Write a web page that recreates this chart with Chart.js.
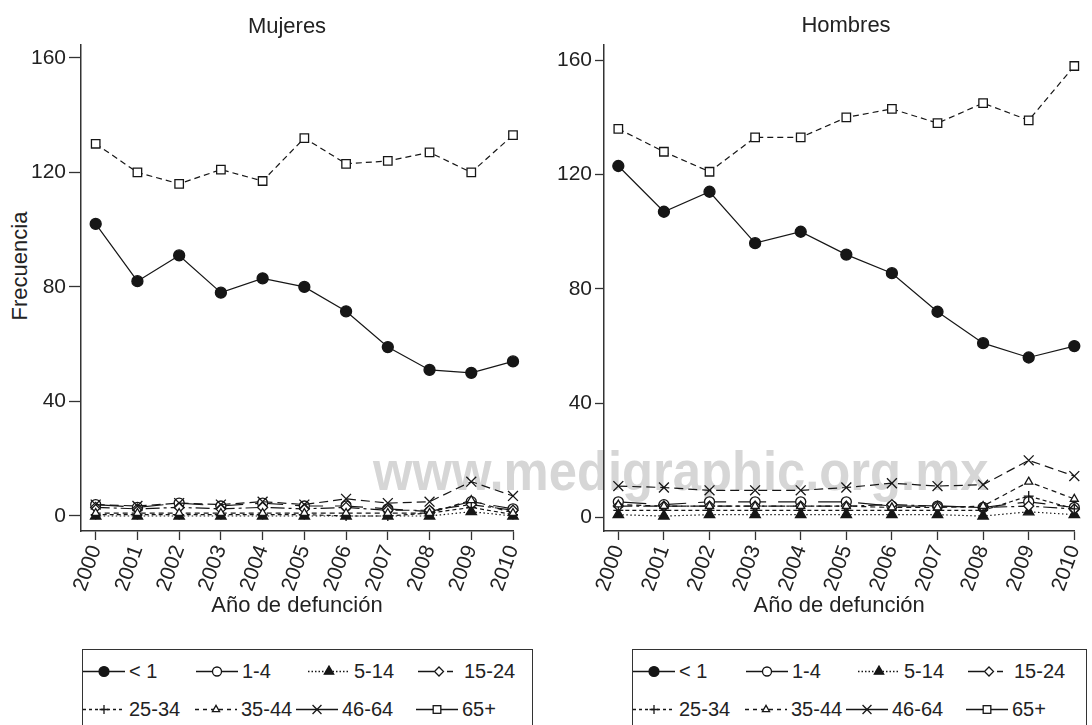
<!DOCTYPE html>
<html>
<head>
<meta charset="utf-8">
<script src="https://cdn.jsdelivr.net/npm/chart.js@4.4.1/dist/chart.umd.min.js"></script>
<style>
  body { margin: 0; width: 1092px; height: 725px; overflow: hidden; position: relative; background: #fff;
         font-family: "Liberation Sans", Arial, Helvetica, sans-serif; color: #222; }
  .panel { position: absolute; top: 0; width: 546px; height: 623px; z-index: 1; }
  .title { position: absolute; font-size: 22px; transform: translate(-50%, -50%); white-space: nowrap; z-index: 2; }
  #ytitle { position: absolute; left: 20px; top: 266px; font-size: 22px; white-space: nowrap;
            transform: translate(-50%, -50%) rotate(-90deg); }
  #watermark { position: absolute; left: 373px; top: 443px; font-size: 56px; line-height: 56px; font-weight: bold;
               color: #d6d6d6; white-space: nowrap; transform: scaleX(0.906); transform-origin: left top; z-index: 0; }
  .legend { position: absolute; top: 649px; height: 95px; border: 1px solid #333; box-sizing: border-box; background: #fff; }
  .item { position: absolute; display: flex; align-items: center; font-size: 20px; white-space: nowrap;
          transform: translateY(-50%); }
  .item svg { margin-right: 4px; }
</style>
</head>
<body>
<div id="watermark">www.medigraphic.org.mx</div>
<div class="title" style="left:287px; top:26px;">Mujeres</div>
<div class="title" style="left:846px; top:25px;">Hombres</div>
<div id="ytitle">Frecuencia</div>
<canvas id="chartMujeres" class="panel" style="left:0px;" width="546" height="623"></canvas>
<canvas id="chartHombres" class="panel" style="left:546px;" width="546" height="623"></canvas>
<div id="legendMujeres" class="legend" style="left:82px; width:451px;"></div>
<div id="legendHombres" class="legend" style="left:632px; width:455px;"></div>

<script>
// datos
const years = [2000, 2001, 2002, 2003, 2004, 2005, 2006, 2007, 2008, 2009, 2010];
const groupLabels = ['< 1', '1-4', '5-14', '15-24', '25-34', '35-44', '46-64', '65+'];
const yTicks = [0, 40, 80, 120, 160];

const mujLt1   = [102, 82, 91, 78, 83, 80, 71.5, 59, 51, 50, 54];
const muj1a4   = [4, 3, 4.5, 3.5, 4.5, 3.5, 3.5, 2.5, 1.5, 5, 2.5];
const muj5a14  = [0, 0, 0, 0, 0, 0, 0, 0, 0, 1.5, 0];
const muj15a24 = [3, 2.5, 3, 2.5, 3, 2.5, 3, 2, 2, 4, 2];
const muj25a34 = [0.5, 0.5, 0.5, 0.5, 0.5, 0.5, 0, 0, 1, 3, 0.5];
const muj35a44 = [1, 1, 1, 1, 1, 1, 1, 1, 1, 5.5, 1];
const muj46a64 = [4, 3.5, 4.5, 4, 5, 4, 6, 4.5, 5, 12, 7];
const muj65    = [130, 120, 116, 121, 117, 132, 123, 124, 127, 120, 133];

const homLt1   = [123, 107, 114, 96, 100, 92, 85.5, 72, 61, 56, 60];
const hom1a4   = [5.5, 4.5, 5.5, 5.5, 5.5, 5.5, 4, 4, 3.5, 5.5, 3.5];
const hom5a14  = [1, 0.5, 1, 1, 1, 1, 1, 1, 0.5, 2, 1];
const hom15a24 = [4, 4, 4, 4, 4, 4, 4.5, 4, 3.5, 4, 3];
const hom25a34 = [2.5, 2.5, 2.5, 2.5, 2.5, 2.5, 2.5, 2.5, 2.5, 7.5, 3];
const hom35a44 = [4.5, 4, 4, 4, 4, 4, 3.5, 3.5, 4, 12.5, 6.5];
const hom46a64 = [11, 10.5, 9.5, 9.5, 9.5, 10.5, 12, 11, 11.5, 20, 14.5];
const hom65    = [136, 128, 121, 133, 133, 140, 143, 138, 145, 139, 158];

const mujeresSeries = [mujLt1, muj1a4, muj5a14, muj15a24, muj25a34, muj35a44, muj46a64, muj65];
const hombresSeries = [homLt1, hom1a4, hom5a14, hom15a24, hom25a34, hom35a44, hom46a64, hom65];

// estilos de cada grupo (marcador, patron de linea en el grafico y en la leyenda)
const ink = '#161616';
const seriesStyles = [
  { pointStyle: 'circle',   radius: 5.5, fill: ink,    dash: [],            keyDash: [] },
  { pointStyle: 'circle',   radius: 5,   fill: '#fff', dash: [28, 12],      keyDash: [] },
  { pointStyle: 'triangle', radius: 6,   fill: ink,    dash: [1.5, 2.5],    keyDash: [1.5, 2] },
  { pointStyle: 'rectRot',  radius: 5,   fill: '#fff', dash: [14, 4, 3, 4], keyDash: [16, 13, 6, 20] },
  { pointStyle: 'cross',    radius: 5,   fill: '#fff', dash: [4, 3],        keyDash: [3, 3] },
  { pointStyle: 'triangle', radius: 4.6, fill: '#fff', dash: [5, 4],        keyDash: [4, 4] },
  { pointStyle: 'crossRot', radius: 7,   fill: '#fff', dash: [9, 5],        keyDash: [] },
  { pointStyle: 'rect',     radius: 6,   fill: '#fff', dash: [6, 4],        keyDash: [] }
];

Chart.defaults.font.family = '"Liberation Sans", Arial, Helvetica, sans-serif';
Chart.defaults.color = '#222';

function buildDatasets(series) {
  return series.map((vals, i) => {
    const st = seriesStyles[i];
    return {
      label: groupLabels[i],
      data: vals.map((v, j) => ({ x: years[j], y: v })),
      borderColor: ink,
      borderWidth: 1.2,
      borderDash: st.dash,
      pointStyle: st.pointStyle,
      pointRadius: st.radius,
      pointBackgroundColor: st.fill,
      pointBorderColor: ink,
      pointBorderWidth: 1.3,
      fill: false,
      tension: 0,
      clip: false,
      order: series.length - i
    };
  });
}

function makePanel(canvasId, series, cfg) {
  return new Chart(document.getElementById(canvasId), {
    type: 'line',
    data: { datasets: buildDatasets(series) },
    options: {
      responsive: false,
      animation: false,
      events: [],
      layout: { padding: { top: 45, right: cfg.padRight, left: 0, bottom: 0 } },
      plugins: { legend: { display: false }, tooltip: { enabled: false }, title: { display: false } },
      scales: {
        x: {
          type: 'linear',
          min: cfg.xMin,
          max: cfg.xMax,
          afterBuildTicks: s => { s.ticks = years.map(v => ({ value: v })); },
          afterFit: s => { s.height = 92; s.paddingLeft = 0; s.paddingRight = 0; },
          ticks: { autoSkip: false, minRotation: 70, maxRotation: 70, padding: 2,
                   font: { size: 21 }, color: '#222', callback: v => String(v) },
          grid: { drawOnChartArea: false, tickLength: 9, tickColor: '#333', tickWidth: 1.3 },
          border: { color: '#333', width: 1.5 },
          title: { display: true, text: 'Año de defunción', font: { size: 22 }, color: '#222',
                   padding: { top: 2, bottom: 4 } }
        },
        y: {
          min: cfg.yMin,
          max: cfg.yMax,
          afterBuildTicks: s => { s.ticks = yTicks.map(v => ({ value: v })); },
          afterFit: s => { s.width = cfg.yWidth; s.paddingTop = 0; s.paddingBottom = 0; },
          ticks: { padding: 3, font: { size: 21 }, color: '#222' },
          grid: { drawOnChartArea: false, tickLength: cfg.tickLen, tickColor: '#333', tickWidth: 1.3 },
          border: { color: '#333', width: 1.5 }
        }
      }
    }
  });
}

makePanel('chartMujeres', mujeresSeries,
  { xMin: 1999.648, xMax: 2010, yMin: -5.24, yMax: 164.5, yWidth: 81, padRight: 33, tickLen: 12 });
makePanel('chartHombres', hombresSeries,
  { xMin: 1999.686, xMax: 2010, yMin: -4.72, yMax: 165.35, yWidth: 58, padRight: 17.7, tickLen: 9 });

// leyenda con linea + marcador
function keySvg(st) {
  const w = 42, h = 20, cx = 21, cy = 10, r = st.radius * 0.9;
  const dash = st.keyDash.length ? st.keyDash.join(' ') : 'none';
  let s = `<svg width="${w}" height="${h}" viewBox="0 0 ${w} ${h}">`;
  s += `<line x1="0" y1="${cy}" x2="${w}" y2="${cy}" stroke="${ink}" stroke-width="1.3" stroke-dasharray="${dash}"/>`;
  const paint = `fill="${st.fill}" stroke="${ink}" stroke-width="1.3"`;
  if (st.pointStyle === 'circle') {
    s += `<circle cx="${cx}" cy="${cy}" r="${r}" ${paint}/>`;
  } else if (st.pointStyle === 'triangle') {
    s += `<polygon points="${cx},${cy - r} ${cx + r * 0.866},${cy + r * 0.5} ${cx - r * 0.866},${cy + r * 0.5}" ${paint}/>`;
  } else if (st.pointStyle === 'rectRot') {
    s += `<polygon points="${cx - r},${cy} ${cx},${cy - r} ${cx + r},${cy} ${cx},${cy + r}" ${paint}/>`;
  } else if (st.pointStyle === 'cross') {
    s += `<path d="M${cx - r} ${cy}H${cx + r}M${cx} ${cy - r}V${cy + r}" stroke="${ink}" stroke-width="1.3"/>`;
  } else if (st.pointStyle === 'crossRot') {
    const d = r * 0.707;
    s += `<path d="M${cx - d} ${cy - d}L${cx + d} ${cy + d}M${cx - d} ${cy + d}L${cx + d} ${cy - d}" stroke="${ink}" stroke-width="1.3"/>`;
  } else if (st.pointStyle === 'rect') {
    const a = r * 0.707;
    s += `<rect x="${cx - a}" y="${cy - a}" width="${2 * a}" height="${2 * a}" ${paint}/>`;
  }
  return s + '</svg>';
}

const legendLeft = [0, 113, 225, 335, 0, 112, 213, 333];
const legendTop = [21, 21, 21, 21, 59, 59, 59, 59];

function buildLegend(id) {
  const box = document.getElementById(id);
  groupLabels.forEach((lab, i) => {
    const item = document.createElement('div');
    item.className = 'item';
    item.style.left = legendLeft[i] + 'px';
    item.style.top = legendTop[i] + 'px';
    item.innerHTML = keySvg(seriesStyles[i]);
    const span = document.createElement('span');
    span.textContent = lab;
    item.appendChild(span);
    box.appendChild(item);
  });
}
buildLegend('legendMujeres');
buildLegend('legendHombres');
</script>
</body>
</html>
